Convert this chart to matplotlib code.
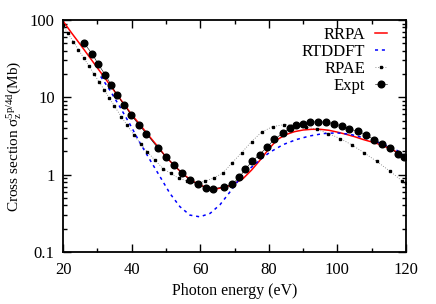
import matplotlib
matplotlib.use("Agg")
import matplotlib.pyplot as plt
from matplotlib.ticker import LogLocator, MultipleLocator, NullFormatter, FixedLocator, FixedFormatter

plt.rcParams['font.family'] = ['Liberation Serif', 'DejaVu Serif']
plt.rcParams['mathtext.fontset'] = 'custom'
plt.rcParams['mathtext.rm'] = 'Liberation Serif'
plt.rcParams['mathtext.it'] = 'Liberation Serif:italic'
plt.rcParams['font.size'] = 11.5

# RRPA (red solid)
rrpa_e = [20, 22.5, 25, 27.5, 30, 32.5, 35, 37.5, 40, 42.5, 45, 47.5, 50, 52.5, 55,
          57.5, 60, 62.5, 65, 67.5, 70, 72.5, 75, 77.5, 80, 82.5, 85, 87.5, 90, 92.5,
          95, 97.5, 100, 102.5, 105, 107.5, 110, 112.5, 115, 117.5, 120]
rrpa_s = [97, 68, 48.5, 34.2, 24.1, 17.1, 12.0, 8.5, 6.0, 4.4, 3.2, 2.35, 1.7, 1.3, 1.02,
          0.84, 0.73, 0.67, 0.66, 0.69, 0.77, 0.89, 1.15, 1.55, 2.15, 2.85, 3.3, 3.6, 3.78, 3.86,
          3.86, 3.75, 3.55, 3.33, 3.1, 2.85, 2.65, 2.45, 2.2, 1.95, 1.62]

# RTDDFT (blue dashed)
rtddft_e = [31, 33.7, 36.6, 39.5, 42.4, 45.4, 48.3, 51.2, 54.1, 57, 59.9, 62.9, 65.8, 68.7,
            71.6, 74.5, 77.4, 80.3, 84.2, 88.1, 92.0, 95.9, 99.8, 103.7, 108.5, 113.4, 117.3, 120]
rtddft_s = [18.6, 12.3, 7.5, 4.5, 2.6, 1.54, 0.94, 0.57, 0.385, 0.30, 0.285, 0.316, 0.41, 0.6,
            0.9, 1.2, 1.55, 1.95, 2.45, 2.85, 3.17, 3.40, 3.47, 3.33, 2.93, 2.48, 2.07, 1.68]

# RPAE (dotted with small points)
rpae_e = [20, 21.5, 23, 24.5, 26, 27.5, 29, 30.5, 32, 33.5, 35, 37, 38.7, 40.6, 42.6, 44.6,
          46.8, 49.2, 51.4, 53.7, 56.1, 58.8, 61.4, 64.0, 66.6, 69.3, 72.1, 75.0, 77.9, 81.1,
          84.3, 87.5, 90.8, 94.0, 97.4, 100.8, 104.2, 107.7, 111.5, 115.2, 118.7, 120]
rpae_s = [85, 67, 52.7, 41.4, 32.6, 25.6, 20.2, 15.8, 12.5, 9.8, 7.7, 5.6, 4.35, 3.3, 2.51, 1.97,
          1.54, 1.2, 1.04, 0.9, 0.83, 0.78, 0.82, 0.91, 1.05, 1.42, 1.93, 2.68, 3.55, 4.18,
          4.42, 4.4, 4.15, 3.86, 3.4, 2.93, 2.43, 1.93, 1.48, 1.12, 0.84, 0.77]

# Experiment
expt_e = [26.2, 28.5, 30.3, 32.3, 34.0, 35.7, 37.8, 39.9, 42.2, 44.3, 47.6, 50.1, 52.4, 54.7,
          57.0, 59.4, 61.7, 63.8, 66.9, 69.4, 71.4, 73.2, 75.2, 77.3, 79.4, 81.6, 84.0, 86.2,
          88.0, 89.9, 92.0, 94.3, 96.7, 99.0, 101.4, 103.4, 106.0, 108.4, 110.8, 113.1, 115.4,
          117.8, 119.3]
expt_s = [49.7, 36.6, 26.7, 19.6, 14.6, 10.8, 8.05, 5.9, 4.35, 3.4, 2.22, 1.70, 1.33, 1.05,
          0.85, 0.75, 0.68, 0.66, 0.69, 0.76, 0.92, 1.19, 1.49, 1.82, 2.26, 2.85, 3.43, 3.98,
          4.35, 4.52, 4.75, 4.85, 4.75, 4.58, 4.23, 3.90, 3.64, 3.27, 2.81, 2.50, 2.21,
          1.84, 1.67]

fig = plt.figure(figsize=(4.36, 3.04), dpi=100)
ax = fig.add_axes([63/436, 1-252/304, (406-63)/436, (252-20)/304])

ax.plot(rrpa_e, rrpa_s, color='#ff0000', lw=1.1, label='RRPA')
ax.plot(rtddft_e, rtddft_s, color='#0000ff', lw=1.1, dashes=(2, 2.5), label='RTDDFT')
ax.plot(rpae_e, rpae_s, color='#777777', lw=0.6, dashes=(1, 2), marker='s', markersize=1.8,
        markerfacecolor='k', markeredgecolor='k', label='RPAE')
ax.plot(expt_e, expt_s, color='k', lw=0.4, marker='o', markersize=4.8, label='Expt')

ax.set_yscale('log')
ax.set_xlim(20, 120)
ax.set_ylim(0.1, 100)
ax.xaxis.set_major_locator(MultipleLocator(20))
ax.xaxis.set_minor_locator(MultipleLocator(10))
ax.yaxis.set_major_locator(FixedLocator([0.1, 1, 10, 100]))
ax.yaxis.set_major_formatter(FixedFormatter(['0.1', '1', '10', '100']))
ax.yaxis.set_minor_locator(LogLocator(base=10, subs=range(2, 10)))
ax.yaxis.set_minor_formatter(NullFormatter())

ax.tick_params(which='both', direction='in', top=True, right=True, width=1.0)
ax.tick_params(which='major', length=6, labelsize=12)
ax.tick_params(axis='x', which='major', pad=7)
ax.tick_params(axis='y', which='major', pad=6)
ax.tick_params(which='minor', length=3)
for sp in ax.spines.values():
    sp.set_linewidth(1.3)

ax.set_xlabel('Photon energy (eV)', fontsize=11.5, labelpad=4)
ax.set_ylabel(r'Cross section $\mathregular{\sigma_z^{5p/4d}}$(Mb)', fontsize=11, labelpad=4)

ax.legend(loc='upper right', frameon=False, markerfirst=False, handlelength=0.75,
          handletextpad=0.6, labelspacing=0.05, fontsize=12,
          bbox_to_anchor=(0.98, 1.02), borderaxespad=0.3)

fig.savefig('out.png', dpi=100)
